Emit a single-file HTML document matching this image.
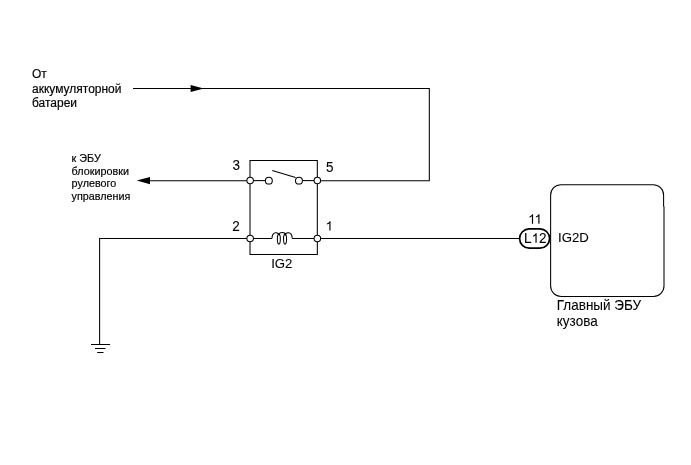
<!DOCTYPE html>
<html><head><meta charset="utf-8">
<style>
html,body{margin:0;padding:0;background:#fff;width:691px;height:465px;overflow:hidden}
svg{display:block;filter:grayscale(1)}
text{font-family:"Liberation Sans",sans-serif;fill:#000;stroke:#000;stroke-width:0.08}
text.s{stroke-width:0.18}
</style></head><body>
<svg width="691" height="465" viewBox="0 0 691 465">
<g fill="none" stroke="#000" stroke-width="1.05">
<polyline points="133,88.5 429.33,88.5 429.33,180.67 320.8,180.67"/>
<line x1="150" y1="180.67" x2="246.8" y2="180.67"/>
<polyline points="246.8,238.5 99.62,238.5 99.62,344.5"/>
<line x1="91" y1="344.5" x2="110" y2="344.5"/>
<line x1="95" y1="348.5" x2="105.5" y2="348.5"/>
<line x1="97.2" y1="352.5" x2="103.5" y2="352.5"/>
<polyline points="250.0,177 250.0,160.5 317.33,160.5 317.33,177"/>
<polyline points="250.0,242 250.0,254.5 317.33,254.5 317.33,242"/>
<line x1="250.0" y1="184" x2="250.0" y2="235"/>
<line x1="317.33" y1="184" x2="317.33" y2="235"/>
<line x1="253.4" y1="180.6" x2="265.3" y2="180.6"/>
<line x1="272.2" y1="170.4" x2="295.6" y2="177.6"/>
<line x1="302.5" y1="180.6" x2="314" y2="180.6"/>
<circle cx="250.15" cy="180.55" r="3.25"/>
<circle cx="268.85" cy="180.65" r="3.45"/>
<circle cx="298.95" cy="180.65" r="3.45"/>
<circle cx="317.35" cy="180.5" r="3.25"/>
<line x1="253.4" y1="238.5" x2="272" y2="238.5"/>
<line x1="292.2" y1="238.5" x2="314" y2="238.5"/>
<path d="M272,238.5 C272,231.6 278.6,231.2 279.2,235.6 M278.6,235.2 C279.2,231.6 285.6,231.6 285.6,235.2 M284.9,235.6 C285.6,231.2 292.2,231.6 292.2,238.5"/>
<ellipse cx="278.85" cy="239.1" rx="1.5" ry="5"/>
<ellipse cx="285.05" cy="239.1" rx="1.5" ry="5"/>
<circle cx="250.15" cy="238.45" r="3.25"/>
<circle cx="317.35" cy="238.45" r="3.25"/>
<line x1="320.6" y1="238.5" x2="519.6" y2="238.5"/>
<path d="M561.12,184.67 H653.1 A10.5,10.5 0 0 1 663.6,195.17 V206 L664.0,207 V286 A10.5,10.5 0 0 1 653.5,296.5 H561.12 A10.5,10.5 0 0 1 550.62,286 V195.17 A10.5,10.5 0 0 1 561.12,184.67 Z"/>
</g>
<rect x="519.6" y="228.9" width="30" height="19.3" rx="9.65" ry="9.65" fill="none" stroke="#000" stroke-width="1.7"/>
<path d="M190.6,85 L203.8,88.5 L190.6,92 Z" fill="#000"/>
<path d="M136.8,180.6 L150,177 L150,184.2 Z" fill="#000"/>

<text x="32" y="78" font-size="12" transform="matrix(1 0 0 1.001 0 -0.078)" class="s">От</text>
<text x="32" y="93" font-size="12" transform="matrix(1 0 0 1.001 0 -0.093)" class="s">аккумуляторной</text>
<text x="32" y="107" font-size="12" transform="matrix(1 0 0 1.001 0 -0.107)" class="s">батареи</text>
<text x="71.6" y="161.65" font-size="10.8" transform="matrix(1 0 0 1.001 0 -0.162)" class="s">к ЭБУ</text>
<text x="71.6" y="175" font-size="10.8" transform="matrix(1 0 0 1.001 0 -0.175)" class="s">блокировки</text>
<text x="71.6" y="187.4" font-size="10.8" transform="matrix(1 0 0 1.001 0 -0.187)" class="s">рулевого</text>
<text x="71.6" y="200" font-size="10.8" transform="matrix(1 0 0 1.001 0 -0.200)" class="s">управления</text>
<text x="232.4" y="170.2" font-size="13.5" transform="matrix(1 0 0 1.05 0 -8.510)">3</text>
<text x="326.0" y="172.2" font-size="13.5" transform="matrix(1 0 0 1.05 0 -8.610)">5</text>
<text x="232.2" y="230.7" font-size="13.5" transform="matrix(1 0 0 1.05 0 -11.535)">2</text>
<path d="M763 0H583V1147Q518 1085 412 1023T222 930V1104Q372 1175 484 1276T643 1472H763V0Z" transform="matrix(0.00659 0 0 -0.00643 325.5 230.6)" fill="#000"/>
<text x="271.2" y="267.8" font-size="13.2" transform="matrix(1 0 0 1.005 0 -1.339)">IG2</text>
<path d="M763 0H583V1147Q518 1085 412 1023T222 930V1104Q372 1175 484 1276T643 1472H763V0Z" transform="matrix(0.00659 0 0 -0.00643 528.06 223.7)" fill="#000"/>
<path d="M763 0H583V1147Q518 1085 412 1023T222 930V1104Q372 1175 484 1276T643 1472H763V0Z" transform="matrix(0.00659 0 0 -0.00643 534.46 223.7)" fill="#000"/>
<text x="524.0" y="242.8" font-size="13.5" transform="matrix(1 0 0 1.05 0 -12.140)">L</text>
<path d="M763 0H583V1147Q518 1085 412 1023T222 930V1104Q372 1175 484 1276T643 1472H763V0Z" transform="matrix(0.00659 0 0 -0.00643 531.6 242.8)" fill="#000"/>
<text x="539.0" y="242.8" font-size="13.5" transform="matrix(1 0 0 1.05 0 -12.140)">2</text>
<text x="558.0" y="241.7" font-size="13.2" transform="matrix(1 0 0 1.005 0 -1.208)">IG2D</text>
<text x="556.8" y="310" font-size="13.5" transform="matrix(1 0 0 1.02 0 -6.200)">Главный ЭБУ</text>
<text x="556.8" y="326" font-size="13.5" transform="matrix(1 0 0 1.02 0 -6.520)">кузова</text>
</svg>
</body></html>
